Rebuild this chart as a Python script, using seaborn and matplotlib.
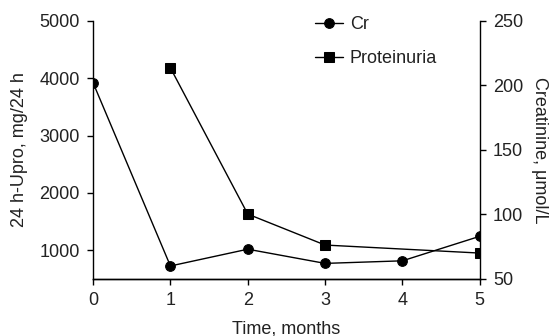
import matplotlib
matplotlib.use("Agg")
import seaborn as sns
import matplotlib.pyplot as plt

sns.set_theme(style="ticks")
plt.rcParams["font.family"] = ["Liberation Sans", "DejaVu Sans"]

# DATA
cr_months = [0, 1, 2, 3, 4, 5]
cr_values = [202, 60, 73, 62, 64, 83]  # Creatinine, umol/L (right axis)
upro_months = [1, 2, 3, 5]
upro_values = [4180, 1630, 1090, 950]  # 24 h-Upro, mg/24 h (left axis)
x_ticks = [0, 1, 2, 3, 4, 5]
left_ticks = [1000, 2000, 3000, 4000, 5000]
right_ticks = [50, 100, 150, 200, 250]

fs = 13
txt = "#222222"

fig = plt.figure(figsize=(5.54, 3.36), dpi=100)
ax = fig.add_axes([0.168, 0.170, 0.698, 0.768])
ax2 = ax.twinx()

sns.lineplot(x=upro_months, y=upro_values, ax=ax, color="black", marker="s",
             markersize=6.5, linewidth=1, markeredgecolor="black", label="Proteinuria",
             legend=False)
sns.lineplot(x=cr_months, y=cr_values, ax=ax2, color="black", marker="o",
             markersize=7, linewidth=1, markeredgecolor="black", label="Cr",
             legend=False)

# Axes details
ax.set_xlim(0, 5)
ax.set_ylim(500, 5000)
ax2.set_ylim(50, 250)
ax.set_xticks(x_ticks)
ax.set_yticks(left_ticks)
ax2.set_yticks(right_ticks)
for a in (ax, ax2):
    a.spines["top"].set_visible(False)
    for s in a.spines.values():
        s.set_linewidth(1)
        s.set_color("black")
    a.tick_params(length=4.5, width=1, color="black", labelsize=fs, labelcolor=txt, pad=5)
ax.spines["right"].set_visible(False)
ax2.spines["left"].set_visible(False)
ax.set_xlabel("Time, months", fontsize=fs, color=txt, labelpad=8)
ax.set_ylabel("24 h-Upro, mg/24 h", fontsize=fs, color=txt, labelpad=8)
ax2.set_ylabel("Creatinine, μmol/L", fontsize=fs, color=txt, rotation=270,
               labelpad=18)
ax.grid(False)
ax2.grid(False)

# Legend
h1, l1 = ax2.get_legend_handles_labels()
h2, l2 = ax.get_legend_handles_labels()
fig.legend(h1 + h2, l1 + l2, loc="upper left", bbox_to_anchor=(0.545, 0.99),
           frameon=False, fontsize=fs, handlelength=1.55, labelspacing=0.95,
           handletextpad=0.4, labelcolor=txt, borderaxespad=0.3)

fig.savefig("out.png", dpi=100)
